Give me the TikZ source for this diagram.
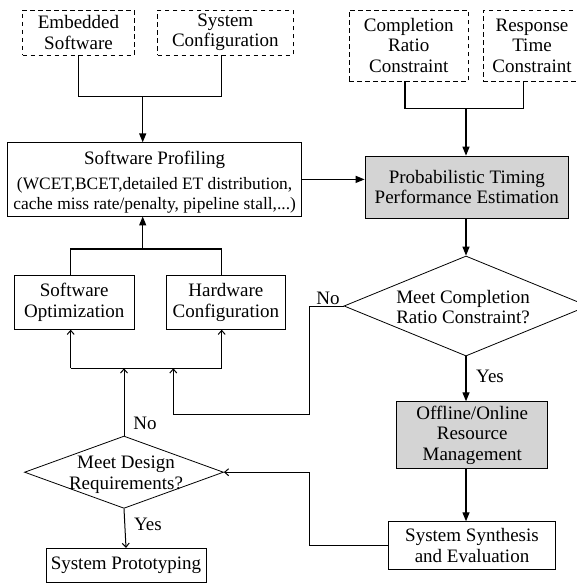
\documentclass[tikz,border=0pt]{standalone}
\usepackage{fontspec}
\setmainfont{Liberation Serif}
\usetikzlibrary{shapes.geometric,arrows.meta}
\begin{document}
\begin{tikzpicture}[x=1pt,y=-1pt,
  txt/.style={inner sep=0pt,align=center,font=\fontsize{19}{20.5}\selectfont},
  box/.style={txt,draw,line width=0.8pt},
  dbox/.style={box,dash pattern=on 4.5pt off 3.5pt},
  gbox/.style={box,fill=black!17},
  dia/.style={draw,diamond,line width=0.8pt,inner sep=0pt},
  main/.style={line width=1.3pt},
  arr/.style={main,-{Triangle[length=9pt,width=7pt]}},
  thinl/.style={line width=1pt},
  arrO/.style={thinl,-{Straight Barb[length=4pt,width=7pt]}}
]
\useasboundingbox (0,0) rectangle (577,583);

% top dashed inputs
\node[dbox,minimum width=111.6pt,minimum height=45pt] (emb) at (78.5,32.5) {Embedded\\Software};
\node[dbox,minimum width=135.3pt,minimum height=45pt] (syscfg) at (225.3,32.5) {System\\Configuration};
\node[dbox,minimum width=119.3pt,minimum height=71pt] (compl) at (408.7,45.5) {Completion\\Ratio\\Constraint};
\node[dbox,minimum width=97.4pt,minimum height=71pt] (resp) at (532,45.5) {Response\\Time\\Constraint};

% software profiling
\node[box,minimum width=294.4pt,minimum height=73.3pt] (prof) at (154.6,179.4) {};
\node[txt] (proft) at (154.6,160) {Software Profiling};
\node[txt,font=\fontsize{17.4}{20}\selectfont] (profd) at (154.6,195) {(WCET,BCET,detailed ET distribution,\\cache miss rate/penalty, pipeline stall,...)};

% probabilistic estimation
\node[gbox,minimum width=203.6pt,minimum height=62.3pt] (prob) at (466.8,187.2) {Probabilistic Timing\\Performance Estimation};

% optimization boxes
\node[box,minimum width=119.7pt,minimum height=53.6pt] (swopt) at (74.2,302.5) {Software\\Optimization};
\node[box,minimum width=119.7pt,minimum height=53.6pt] (hwcfg) at (225.9,302.5) {Hardware\\Configuration};

% decision 1
\node[dia,minimum width=244pt,minimum height=100pt] (dia1) at (466,306) {};
\node[txt] (dia1t) at (463,307) {Meet Completion\\Ratio Constraint?};

% resource management
\node[gbox,minimum width=151pt,minimum height=66.6pt] (off) at (472.2,435) {Offline/Online\\Resource\\Management};
\node[box,minimum width=167.4pt,minimum height=47.6pt] (synth) at (472,545.5) {System Synthesis\\and Evaluation};

% decision 2
\node[dia,minimum width=199pt,minimum height=72.3pt] (dia2) at (124,472.2) {};
\node[txt] (dia2t) at (126,474.5) {Meet Design\\Requirements?};
\node[box,minimum width=160pt,minimum height=34pt] (proto) at (126,565.3) {System Prototyping};

% labels
\node[txt] (no1) at (328,298) {No};
\node[txt] (yes1) at (490,376.7) {Yes};
\node[txt] (no2) at (145,423.3) {No};
\node[txt] (yes2) at (148,524) {Yes};

% coordinates
\coordinate (jl) at (142.7,96.7);
\coordinate (jr) at (466,108.3);
\coordinate (jm) at (142.7,249);
\coordinate (busL) at (70.7,368.3);
\coordinate (busR) at (221.7,368.3);
\coordinate (cB) at (309.3,414.3);
\coordinate (cC) at (173.3,414.3);
\coordinate (cD) at (173.3,368.3);
\coordinate (cA) at (309.3,472.2);

% top junctions
\draw[main] (emb.south) |- (jl) -| ([xshift=-3.6pt]syscfg.south);
\draw[arr] (jl) -- (jl |- prof.north);
\draw[main] ([xshift=-3.7pt]compl.south) |- (jr) -| ([xshift=-8.7pt]resp.south);
\draw[arr] (jr) -- (jr |- prob.north);

% profiling to estimation
\draw[arr] (prof.east) -- (prof.east -| prob.west);

% estimation to decision
\draw[arr] (prob.south -| dia1.north) -- (dia1.north);
\draw[arr] (dia1.south) -- (dia1.south |- off.north);
\draw[arr] (off.south -| dia1.south) -- (dia1.south |- synth.north);

% optimization to profiling
\draw[main] (busL |- swopt.north) |- (jm) -| (busR |- hwcfg.north);
\draw[arr] (jm) -- (jm |- prof.south);

% feedback bus
\draw[thinl] (busL) -- (busR);
\draw[arrO] (busL) -- (busL |- swopt.south);
\draw[arrO] (busR) -- (busR |- hwcfg.south);

% No from decision 1
\draw[arrO] (dia1.west) -| (cB) -- (cC) -- (cD);

% synthesis back to decision 2
\draw[arrO] (synth.west) -| (cA) -- (dia2.east);

% decision 2 outputs
\draw[arrO] (dia2.north) -- (dia2.north |- busL);
\draw[arrO] (dia2.south) -- (proto.north);
\end{tikzpicture}
\end{document}
